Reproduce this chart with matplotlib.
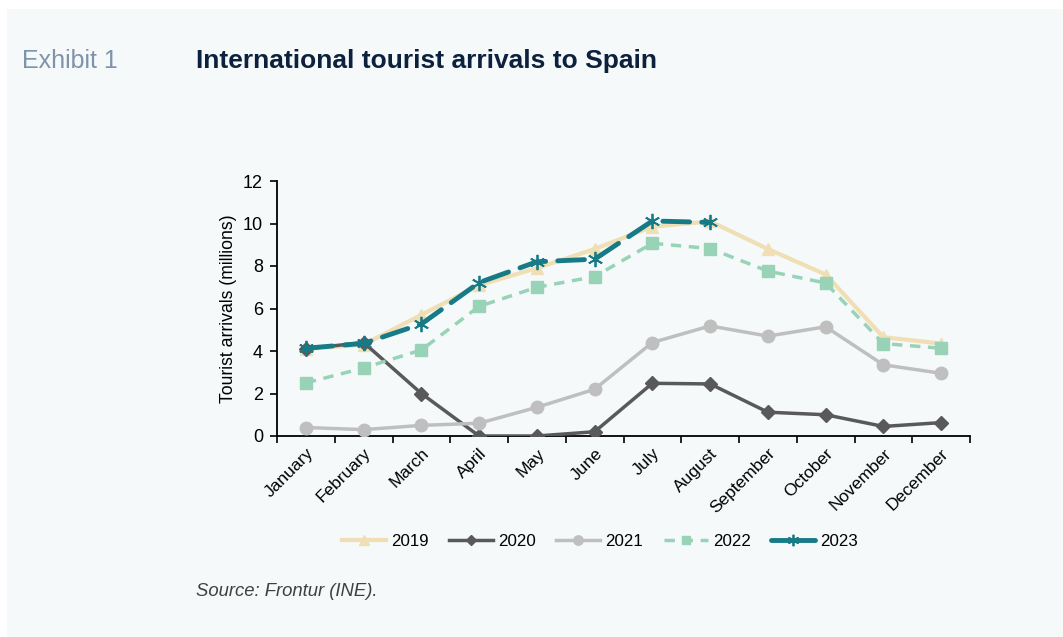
import matplotlib
matplotlib.use("Agg")
import matplotlib.pyplot as plt
from matplotlib.patches import Rectangle
import numpy as np

plt.rcParams['font.family'] = ['Liberation Sans', 'DejaVu Sans']

months = ["January", "February", "March", "April", "May", "June", "July",
          "August", "September", "October", "November", "December"]
y2019 = [4.1, 4.3, 5.7, 7.1, 7.9, 8.8, 9.85, 10.1, 8.8, 7.6, 4.65, 4.35]
y2020 = [4.1, 4.4, 2.0, 0.0, 0.0, 0.2, 2.48, 2.45, 1.12, 1.0, 0.45, 0.63]
y2021 = [0.4, 0.3, 0.5, 0.6, 1.35, 2.2, 4.4, 5.18, 4.7, 5.14, 3.35, 2.95]
y2022 = [2.5, 3.2, 4.05, 6.1, 7.0, 7.5, 9.07, 8.82, 7.76, 7.2, 4.35, 4.13]
y2023 = [4.13, 4.36, 5.27, 7.22, 8.2, 8.32, 10.12, 10.05]
yticks = [0, 2, 4, 6, 8, 10, 12]

W, H = 1063, 637
fig = plt.figure(figsize=(W / 100, H / 100), dpi=100)
fig.patch.set_facecolor('white')
fig.add_artist(Rectangle((7 / W, 0), 1, 1 - 9 / H, transform=fig.transFigure,
                         facecolor='#f5f9fa', edgecolor='none', zorder=-10))

ax = fig.add_axes([277 / W, 1 - 436 / H, (970 - 277) / W, (436 - 181) / H])
ax.set_facecolor('none')

x = np.arange(len(months))
ax.plot(x, y2019, color='#f0deb4', lw=3, marker='^', ms=9, label='2019', zorder=2)
ax.plot(x, y2020, color='#595959', lw=2.5, marker='D', ms=7, label='2020', zorder=3)
ax.plot(x, y2021, color='#bfbfbf', lw=2.5, marker='o', ms=9, label='2021', zorder=3)
ax.plot(x, y2022, color='#98d3b8', lw=2.5, marker='s', ms=8, ls=(0, (3, 2.2)),
        label='2022', zorder=4)
ax.plot(x[:len(y2023)], y2023, color='#177a87', lw=3.5, marker=(6, 2, 0), ms=11,
        mew=1.3, ls=(0, (5.5, 2.5)), dash_capstyle='round', label='2023', zorder=5)

ax.set_xlim(-0.5, 11.5)
ax.set_ylim(0, 12)
ax.set_yticks(yticks)
ax.set_yticklabels([str(v) for v in yticks], fontsize=13)
ax.set_xticks(np.arange(-0.5, 12, 1))
ax.set_xticklabels([])
ax.set_xticks(x, minor=True)
ax.set_xticklabels(months, minor=True, rotation=45, ha='right', va='top',
                   rotation_mode='anchor', fontsize=12.5)
ax.tick_params(axis='x', which='minor', length=0, pad=7)
ax.tick_params(axis='x', which='major', direction='out', length=5, width=1.2)
ax.tick_params(axis='y', direction='out', length=5, width=1.2, pad=5)
for s in ['top', 'right']:
    ax.spines[s].set_visible(False)
for s in ['left', 'bottom']:
    ax.spines[s].set_linewidth(1.3)
    ax.spines[s].set_color('black')
ax.set_ylabel('Tourist arrivals (millions)', fontsize=12.7, labelpad=4)

leg = fig.legend(loc='center', bbox_to_anchor=(600 / W, 1 - 541 / H), ncol=5,
                 frameon=False, fontsize=12.2, handlelength=2.6, columnspacing=1.2,
                 handletextpad=0.3, markerscale=0.75)
leg.legend_handles[4].set_linestyle('-')
leg.legend_handles[4].set_solid_capstyle('round')

fig.text(22 / W, 1 - 61 / H, 'Exhibit 1', fontsize=18, color='#7f93ab',
         va='center', ha='left')
fig.text(196 / W, 1 - 61 / H, 'International tourist arrivals to Spain', fontsize=19,
         color='#0c213d', va='center', ha='left', fontweight='bold')
fig.text(196 / W, 1 - 591 / H, 'Source: Frontur (INE).', fontsize=13.3,
         color='#404040', va='center', ha='left', style='italic')

fig.savefig('out.png', dpi=100, facecolor=fig.get_facecolor())
